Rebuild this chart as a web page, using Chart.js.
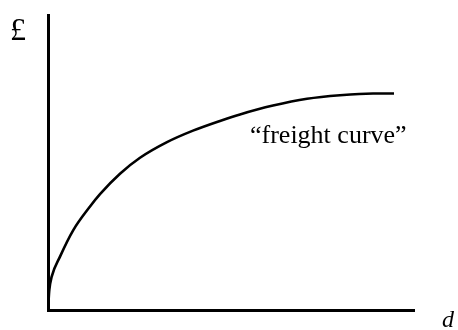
<!DOCTYPE html>
<html>
<head>
<meta charset="utf-8">
<script src="https://cdn.jsdelivr.net/npm/chart.js@4"></script>
<style>
html,body{margin:0;padding:0;background:#fff;}
#wrap{width:458px;height:330px;position:relative;}
</style>
</head>
<body>
<div id="wrap"><canvas id="c" width="458" height="330"></canvas></div>
<script>
// Data (distance d vs freight cost £)
const distance = [0.008, 0.036, 0.101, 0.328, 0.691, 1.148, 1.421, 1.967, 2.514, 3.251, 3.962, 4.699, 5.246, 6.148, 7.077, 7.978, 8.880, 9.454];
const cost     = [0.17, 0.68, 1.13, 1.81, 2.71, 3.51, 3.93, 4.62, 5.16, 5.69, 6.08, 6.41, 6.63, 6.93, 7.16, 7.28, 7.34, 7.34];
const xLabel = 'd';
const yLabel = '£';
const curveLabel = '\u201Cfreight curve\u201D';

const points = distance.map((d, i) => ({x: d, y: cost[i]}));

const textPlugin = {
  id: 'texts',
  afterDraw(chart) {
    const ctx = chart.ctx;
    ctx.save();
    ctx.fillStyle = '#000';
    ctx.textBaseline = 'alphabetic';
    ctx.textAlign = 'left';
    ctx.font = '32px "Liberation Serif", "DejaVu Serif", serif';
    ctx.fillText(yLabel, 10, 40);
    ctx.font = 'italic 24px "Liberation Serif", "DejaVu Serif", serif';
    ctx.fillText(xLabel, 442, 327);
    ctx.font = '26px "Liberation Serif", "DejaVu Serif", serif';
    ctx.fillText(curveLabel, 250, 143);
    ctx.restore();
  }
};

new Chart(document.getElementById('c'), {
  type: 'scatter',
  data: {
    datasets: [{
      data: points,
      showLine: true,
      borderColor: '#000',
      borderWidth: 2.6,
      pointRadius: 0,
      cubicInterpolationMode: 'monotone',
      fill: false
    }]
  },
  options: {
    responsive: false,
    animation: false,
    layout: {padding: {left: 48, top: 15, right: 44, bottom: 20}},
    plugins: {legend: {display: false}, tooltip: {enabled: false}},
    scales: {
      x: {
        type: 'linear', min: 0, max: 10,
        ticks: {display: false},
        grid: {display: false, drawTicks: false},
        border: {display: true, color: '#000', width: 3},
        afterFit: s => { s.height = 0; }
      },
      y: {
        type: 'linear', min: 0, max: 10,
        ticks: {display: false},
        grid: {display: false, drawTicks: false},
        border: {display: true, color: '#000', width: 3},
        afterFit: s => { s.width = 0; }
      }
    }
  },
  plugins: [textPlugin]
});
</script>
</body>
</html>
